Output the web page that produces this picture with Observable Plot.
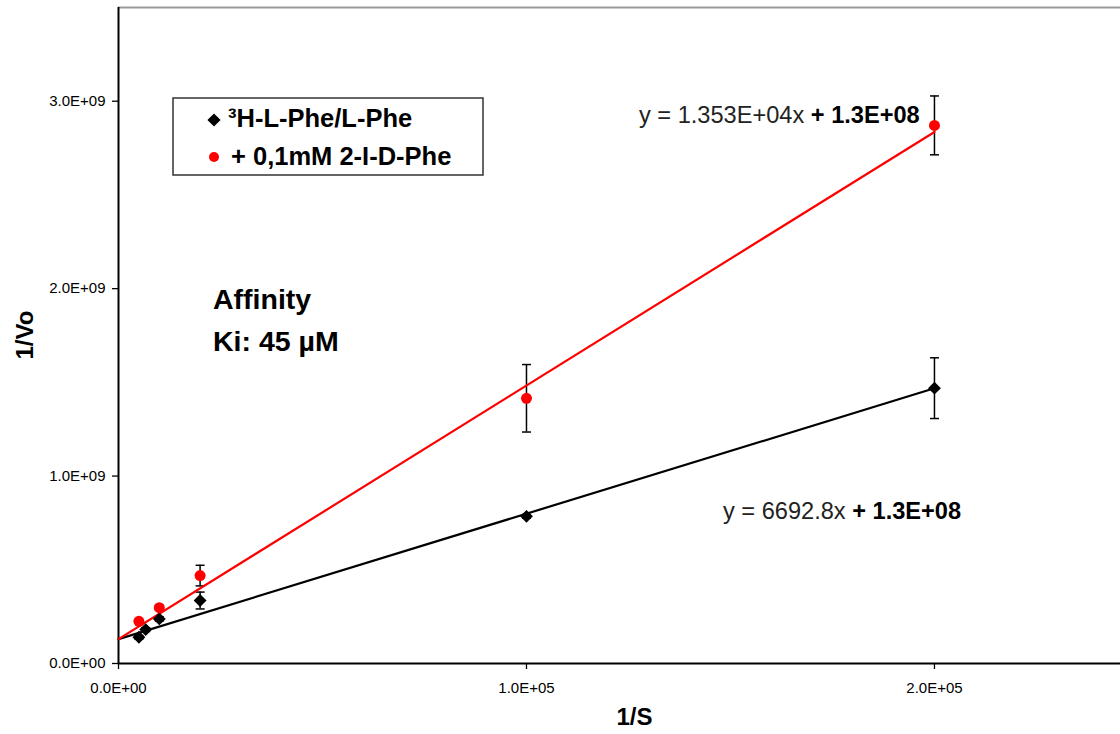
<!DOCTYPE html>
<html>
<head>
<meta charset="utf-8">
<script src="https://cdn.jsdelivr.net/npm/d3@7"></script>
<script src="https://cdn.jsdelivr.net/npm/@observablehq/plot@0.6"></script>
<style>
  html, body { margin: 0; padding: 0; background: white; }
  svg text { white-space: pre; }
</style>
</head>
<body>
<div id="chart"></div>
<script>
// ---- data ----
const blackX = [5000, 6667, 10000, 20000, 100000, 200000];
const blackY = [0.14e9, 0.181e9, 0.238e9, 0.336e9, 0.785e9, 1.469e9];
const blackErr = [0.01e9, 0.01e9, 0.012e9, 0.045e9, 0.01e9, 0.162e9];

const redX = [5000, 10000, 20000, 100000, 200000];
const redY = [0.225e9, 0.298e9, 0.469e9, 1.415e9, 2.871e9];
const redErr = [0.01e9, 0.012e9, 0.055e9, 0.18e9, 0.157e9];

const seriesNames = ["\u00B3H-L-Phe/L-Phe", "+ 0,1mM 2-I-D-Phe"];
const fitSlopes = [6692.8, 13530];
const fitIntercepts = [1.3e8, 1.3e8];
const fitRange = [0, 200000];
const fitLabelsRegular = ["y = 6692.8x ", "y = 1.353E+04x "];
const fitLabelsBold = ["+ 1.3E+08", "+ 1.3E+08"];

const xTicks = [0, 100000, 200000];
const yTicks = [0, 1e9, 2e9, 3e9];
const xDomain = [0, 2.456e5];
const yDomain = [0, 3.5e9];
const xTitle = "1/S";
const yTitle = "1/Vo";
const noteLines = ["Affinity", "Ki: 45 \u00B5M"];

// ---- build tables ----
const FONT = "'Liberation Sans', Arial, Helvetica, sans-serif";
const fmt = v => {
  if (v === 0) return "0.0E+00";
  const e = Math.floor(Math.log10(Math.abs(v)) + 1e-9);
  const m = v / Math.pow(10, e);
  return m.toFixed(1) + "E+" + String(e).padStart(2, "0");
};
const black = blackX.map((x, i) => ({x, y: blackY[i], lo: blackY[i] - blackErr[i], hi: blackY[i] + blackErr[i]}));
const red = redX.map((x, i) => ({x, y: redY[i], lo: redY[i] - redErr[i], hi: redY[i] + redErr[i]}));
const colors = ["black", "#ff0000"];
const fits = [];
fitSlopes.forEach((s, k) => fitRange.forEach(x => fits.push({k, x, y: s * x + fitIntercepts[k]})));

const capSymbol = { draw(ctx, size) { ctx.moveTo(-4.5, 0); ctx.lineTo(4.5, 0); } };

const plot = Plot.plot({
  width: 1120,
  height: 734,
  marginLeft: 118,
  marginRight: 0,
  marginTop: 7,
  marginBottom: 71,
  style: {fontFamily: FONT, background: "white", color: "black", overflow: "visible"},
  x: {domain: xDomain},
  y: {domain: yDomain},
  marks: [
    Plot.ruleY([yDomain[1]], {stroke: "#9a9a9a", strokeWidth: 2}),
    Plot.axisX({ticks: xTicks, tickFormat: fmt, tickSize: 6, tickPadding: 13, fontSize: 15, label: null, strokeWidth: 1.3}),
    Plot.axisY({ticks: yTicks, tickFormat: fmt, tickSize: 6, tickPadding: 7, fontSize: 15, label: null, strokeWidth: 1.3}),
    Plot.ruleX([0], {stroke: "black", strokeWidth: 2}),
    Plot.ruleY([0], {stroke: "black", strokeWidth: 2}),
    // error bars
    Plot.ruleX(black, {x: "x", y1: "lo", y2: "hi", stroke: "black", strokeWidth: 1.5}),
    Plot.ruleX(red, {x: "x", y1: "lo", y2: "hi", stroke: "black", strokeWidth: 1.5}),
    Plot.dot(black, {x: "x", y: "hi", symbol: capSymbol, stroke: "black", strokeWidth: 1.5, r: 3}),
    Plot.dot(black, {x: "x", y: "lo", symbol: capSymbol, stroke: "black", strokeWidth: 1.5, r: 3}),
    Plot.dot(red, {x: "x", y: "hi", symbol: capSymbol, stroke: "black", strokeWidth: 1.5, r: 3}),
    Plot.dot(red, {x: "x", y: "lo", symbol: capSymbol, stroke: "black", strokeWidth: 1.5, r: 3}),
    // trend lines
    Plot.line(fits, {x: "x", y: "y", z: "k", stroke: d => colors[d.k], strokeWidth: 2.2}),
    // points
    Plot.dot(black, {x: "x", y: "y", symbol: "diamond2", r: 5.8, fill: "black", stroke: "none"}),
    Plot.dot(red, {x: "x", y: "y", symbol: "circle", r: 5.5, fill: "#ff0000", stroke: "none"}),
    // axis titles
    Plot.text([yTitle], {frameAnchor: "left", dx: -93, dy: 24, rotate: -90, fontSize: 24, fontWeight: "bold", fill: "black"}),
    Plot.text([xTitle], {frameAnchor: "bottom", dx: 15, dy: 61, fontSize: 24, fontWeight: "bold", fill: "black"})
  ]
});
document.getElementById("chart").appendChild(plot);

// ---- annotations: legend, note, equations ----
const svg = d3.select(plot);
const g = svg.append("g").attr("font-family", FONT).attr("text-anchor", "start");

// legend
g.append("rect").attr("x", 173).attr("y", 98).attr("width", 310).attr("height", 77)
  .attr("fill", "white").attr("stroke", "#333").attr("stroke-width", 1.5);
g.append("path").attr("transform", "translate(214,120)")
  .attr("d", d3.symbol(d3.symbolDiamond2, 110)()).attr("fill", "black");
g.append("circle").attr("cx", 214).attr("cy", 157).attr("r", 5).attr("fill", "#ff0000");
g.append("text").attr("x", 228).attr("y", 127).attr("font-size", 25.5).attr("font-weight", "bold")
  .attr("text-anchor", "start").text(seriesNames[0]);
g.append("text").attr("x", 231).attr("y", 165).attr("font-size", 25.5).attr("font-weight", "bold")
  .attr("text-anchor", "start").text(seriesNames[1]);

// note
g.append("text").attr("x", 213).attr("y", 309).attr("font-size", 28.5).attr("font-weight", "bold")
  .attr("text-anchor", "start").text(noteLines[0]);
g.append("text").attr("x", 213).attr("y", 351).attr("font-size", 28.5).attr("font-weight", "bold")
  .attr("text-anchor", "start").text(noteLines[1]);

// equations
const eqPos = [[723, 519], [639, 123]];
eqPos.forEach(([x, y], k) => {
  const t = g.append("text").attr("x", x).attr("y", y).attr("font-size", 23.6).attr("text-anchor", "start");
  t.append("tspan").attr("fill", "#222").text(fitLabelsRegular[k]);
  t.append("tspan").attr("font-weight", "bold").attr("fill", "black").text(fitLabelsBold[k]);
});
</script>
</body>
</html>
